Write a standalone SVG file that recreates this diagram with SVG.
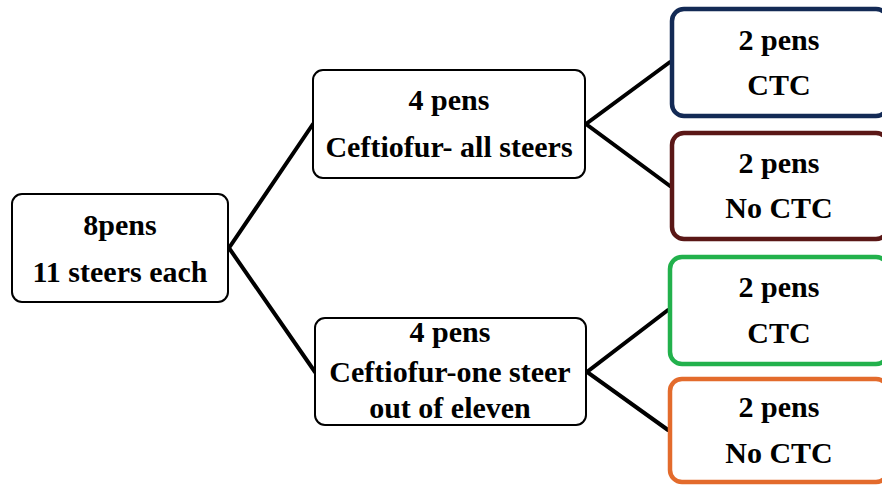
<svg xmlns="http://www.w3.org/2000/svg" width="882" height="487" viewBox="0 0 882 487">
  <style>
    .box { fill: #ffffff; stroke: #000000; stroke-width: 2; }
    .leaf { fill: #ffffff; stroke-width: 4.5; }
    .lbl { fill: #000000; text-anchor: middle; }
    .link { stroke: #000000; stroke-width: 4; fill: none; stroke-linecap: round; }
  </style>
  <rect width="882" height="487" fill="#ffffff"/>

  <!-- connectors -->
  <g id="connectors">
    <polyline class="link" points="313,124 229,248 315,372"/>
    <polyline class="link" points="670,62 586,124 670,186"/>
    <polyline class="link" points="668,310 587,372 668,430"/>
  </g>

  <g id="root">
    <rect class="box" x="12" y="194" width="216" height="108" rx="10"/>
    <text class="lbl" font-family="Liberation Serif" font-weight="bold" font-size="30" x="120" y="235">8pens</text>
    <text class="lbl" font-family="Liberation Serif" font-weight="bold" font-size="30" x="120" y="282">11 steers each</text>
  </g>

  <g id="all-steers">
    <rect class="box" x="313" y="70" width="272" height="108" rx="10"/>
    <text class="lbl" font-family="Liberation Serif" font-weight="bold" font-size="30" x="449" y="110">4 pens</text>
    <text class="lbl" font-family="Liberation Serif" font-weight="bold" font-size="30" x="449" y="157">Ceftiofur- all steers</text>
  </g>

  <g id="one-steer">
    <rect class="box" x="315" y="318" width="271" height="107" rx="10"/>
    <text class="lbl" font-family="Liberation Serif" font-weight="bold" font-size="30" x="450" y="342">4 pens</text>
    <text class="lbl" font-family="Liberation Serif" font-weight="bold" font-size="30" x="450" y="382">Ceftiofur-one steer</text>
    <text class="lbl" font-family="Liberation Serif" font-weight="bold" font-size="30" x="450" y="418">out of eleven</text>
  </g>

  <g id="all-ctc">
    <rect class="leaf" x="672" y="9" width="216" height="107" rx="12" stroke="#132a55"/>
    <text class="lbl" font-family="Liberation Serif" font-weight="bold" font-size="30" x="779" y="50">2 pens</text>
    <text class="lbl" font-family="Liberation Serif" font-weight="bold" font-size="30" x="779" y="95">CTC</text>
  </g>

  <g id="all-no-ctc">
    <rect class="leaf" x="672" y="133" width="216" height="106" rx="12" stroke="#5a1716"/>
    <text class="lbl" font-family="Liberation Serif" font-weight="bold" font-size="30" x="779" y="173">2 pens</text>
    <text class="lbl" font-family="Liberation Serif" font-weight="bold" font-size="30" x="779" y="218">No CTC</text>
  </g>

  <g id="one-ctc">
    <rect class="leaf" x="670" y="257" width="218" height="107" rx="12" stroke="#22b14c"/>
    <text class="lbl" font-family="Liberation Serif" font-weight="bold" font-size="30" x="779" y="297">2 pens</text>
    <text class="lbl" font-family="Liberation Serif" font-weight="bold" font-size="30" x="779" y="343">CTC</text>
  </g>

  <g id="one-no-ctc">
    <rect class="leaf" x="670" y="379" width="218" height="103" rx="12" stroke="#e36b2c"/>
    <text class="lbl" font-family="Liberation Serif" font-weight="bold" font-size="30" x="779" y="417">2 pens</text>
    <text class="lbl" font-family="Liberation Serif" font-weight="bold" font-size="30" x="779" y="463">No CTC</text>
  </g>
</svg>
